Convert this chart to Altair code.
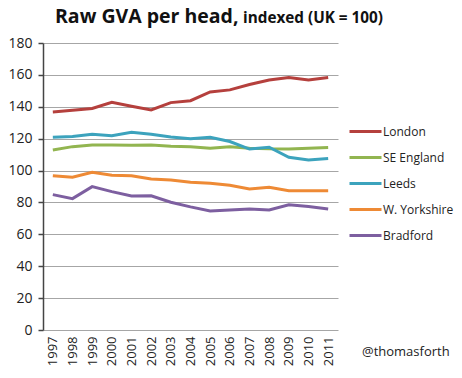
import altair as alt
import pandas as pd

years = [str(y) for y in range(1997, 2012)]
series_names = ["London", "SE England", "Leeds", "W. Yorkshire", "Bradford"]
london = [136.8, 137.8, 138.9, 142.8, 140.3, 138.0, 142.6, 143.8, 149.3, 150.6, 154.0, 156.8, 158.3, 156.8, 158.3]
se_england = [112.9, 115.0, 116.0, 116.1, 115.9, 116.0, 115.3, 115.0, 114.0, 115.0, 114.0, 113.6, 113.5, 114.0, 114.5]
leeds = [120.9, 121.3, 122.8, 121.9, 124.0, 122.8, 121.1, 120.0, 120.9, 118.2, 113.5, 114.6, 108.3, 106.6, 107.5]
w_yorkshire = [96.8, 95.8, 98.9, 97.0, 96.8, 94.7, 94.1, 92.7, 92.0, 90.8, 88.5, 89.5, 87.4, 87.4, 87.4]
bradford = [84.9, 82.4, 89.9, 86.8, 84.0, 84.2, 80.1, 77.2, 74.7, 75.3, 75.9, 75.3, 78.6, 77.4, 75.9]
colors = ["#B5403D", "#92B550", "#3CA3BD", "#EE8A35", "#7D5FA0"]
y_ticks = [0, 20, 40, 60, 80, 100, 120, 140, 160, 180]

rows = []
for name, vals in zip(series_names, [london, se_england, leeds, w_yorkshire, bradford]):
    for yr, v in zip(years, vals):
        rows.append({"year": yr, "series": name, "value": v})
df = pd.DataFrame(rows)

FONT = "Open Sans"

lines = alt.Chart(df).mark_line(strokeWidth=3).encode(
    x=alt.X("year:O", sort=years, title=None,
            scale=alt.Scale(type="point", padding=0.5),
            axis=alt.Axis(labelAngle=270, labelFontSize=13, labelColor="#222",
                          labelFont=FONT, domain=False, ticks=False,
                          labelPadding=6, grid=False)),
    y=alt.Y("value:Q", title=None,
            scale=alt.Scale(domain=[0, 180], nice=False),
            axis=alt.Axis(values=y_ticks, labelFontSize=14, labelColor="#222",
                          labelFont=FONT, domainColor="#444", domainWidth=1.5,
                          tickColor="#444", tickSize=5, tickWidth=1.5,
                          gridColor="#A6A6A6", gridWidth=1, labelPadding=6)),
    color=alt.Color("series:N", sort=series_names,
                    scale=alt.Scale(domain=series_names, range=colors),
                    legend=alt.Legend(title=None, orient="none", legendX=305, legendY=71,
                                      symbolType="stroke", symbolSize=1024,
                                      symbolStrokeWidth=3, labelFontSize=12,
                                      labelFont=FONT, labelColor="#222",
                                      labelOffset=0, rowPadding=2)),
)

title_main = alt.Chart(pd.DataFrame({"t": ["Raw GVA per head,"]})).mark_text(
    align="left", baseline="alphabetic", fontSize=19.5, fontWeight="bold", font=FONT, color="#111"
).encode(x=alt.value(12), y=alt.value(-20), text="t:N")

title_sub = alt.Chart(pd.DataFrame({"t": ["indexed (UK = 100)"]})).mark_text(
    align="left", baseline="alphabetic", fontSize=15.3, fontWeight="bold", font=FONT, color="#111"
).encode(x=alt.value(200), y=alt.value(-20), text="t:N")

credit = alt.Chart(pd.DataFrame({"t": ["@thomasforth"]})).mark_text(
    align="left", baseline="alphabetic", fontSize=13, font=FONT, color="#222"
).encode(x=alt.value(319), y=alt.value(313), text="t:N")

chart = alt.layer(lines, title_main, title_sub, credit).properties(
    width=295, height=287,
    autosize=alt.AutoSizeParams(type="none"),
    padding={"left": 35, "top": 35, "right": 116, "bottom": 40},
).configure_view(stroke=None)

chart.save("out.html", embed_options={"renderer": "svg", "actions": False})
